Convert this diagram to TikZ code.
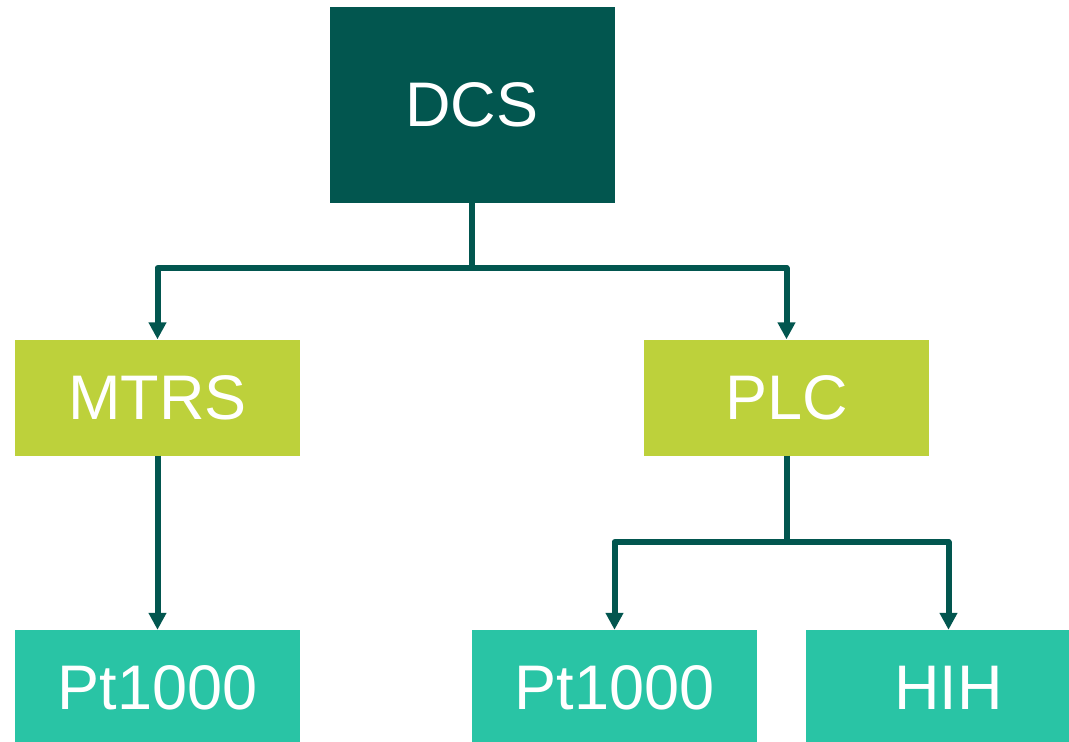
\documentclass[tikz,border=0pt]{standalone}
\usepackage{fontspec}
\setmainfont{Liberation Sans}
\usetikzlibrary{arrows.meta}
\definecolor{darkteal}{HTML}{02564F}
\definecolor{lime}{HTML}{BDD13B}
\definecolor{mint}{HTML}{29C4A5}
\begin{document}
\begin{tikzpicture}[x=1pt,y=-1pt,
  box/.style={minimum width=285pt,inner sep=0pt,text=white,font=\fontsize{63}{63}\selectfont},
  top/.style={box,fill=darkteal,minimum height=196pt},
  mid/.style={box,fill=lime,minimum height=116pt},
  leaf/.style={box,fill=mint,minimum height=116pt},
  link/.style={draw=darkteal,line width=6pt,line join=round,-{Triangle[length=17pt,width=17pt]}}]
\useasboundingbox (0,0) rectangle (1069,742);
\clip (0,0) rectangle (1069,742);
\node[top]  (dcs)  at (472,105) {\raisebox{-3pt}{DCS}};
\node[mid]  (mtrs) at (157.5,397.5) {MTRS};
\node[mid]  (plc)  at (786.5,397.5) {PLC};
\node[leaf] (pt1)  at (157.5,688) {\raisebox{-2pt}{Pt1000}};
\node[leaf] (pt2)  at (614.5,688) {\raisebox{-2pt}{Pt1000}};
\node[leaf] (hih)  at (948.5,688) {\raisebox{-2pt}{HIH}};
\coordinate (j1) at (472,268);
\coordinate (j2) at (786.5,542);
\draw[link] (dcs.south) -- (j1) -| (mtrs.north);
\draw[link] (j1) -| (plc.north);
\draw[link] (mtrs.south) -- (pt1.north);
\draw[link] (plc.south) -- (j2) -| (pt2.north);
\draw[link] (j2) -| (hih.north);
\end{tikzpicture}
\end{document}
